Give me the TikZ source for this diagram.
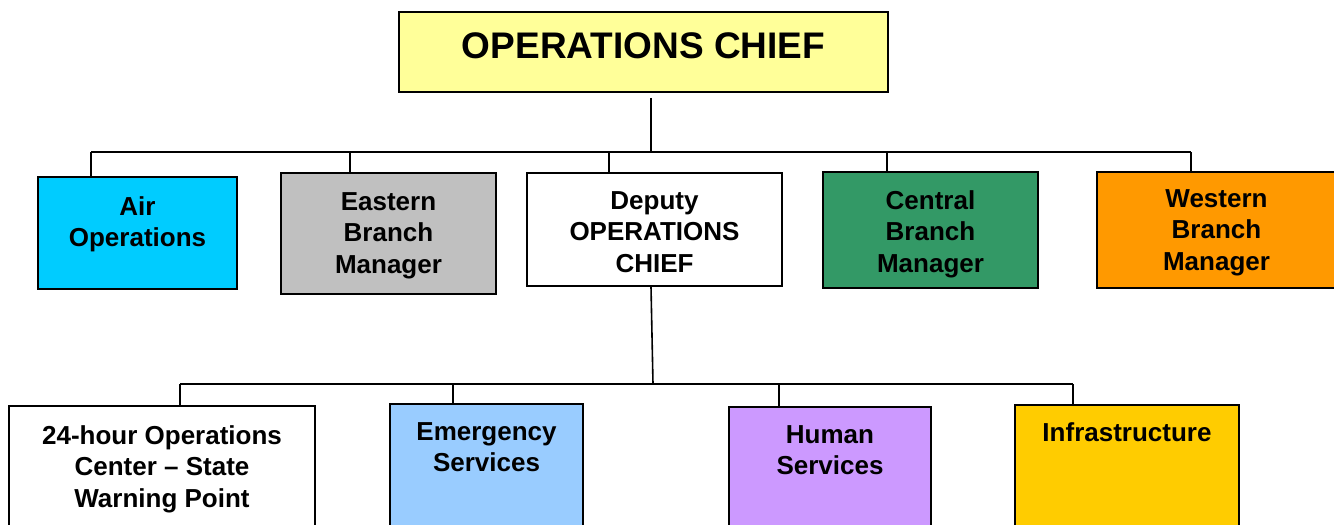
\documentclass[tikz,border=0pt]{standalone}
\usepackage{fontspec}
\setmainfont{Liberation Sans}
\definecolor{chiefyel}{HTML}{FFFF99}
\definecolor{aircyan}{HTML}{00CCFF}
\definecolor{eastgray}{HTML}{C0C0C0}
\definecolor{centgreen}{HTML}{339966}
\definecolor{westorange}{HTML}{FF9900}
\definecolor{emergblue}{HTML}{99CCFF}
\definecolor{humanlilac}{HTML}{CC99FF}
\definecolor{infragold}{HTML}{FFCC00}

\begin{document}
\begin{tikzpicture}[x=1pt, y=-1pt,
    box/.style={draw, line width=1.5pt, rectangle, inner sep=0pt},
    lbl/.style={anchor=north, inner sep=0pt, align=center,
      font=\bfseries\fontsize{26}{31.5}\selectfont},
    link/.style={line width=1.6pt}]
  \useasboundingbox (0,0) rectangle (1334,525);

  % boxes
  \node[box, fill=chiefyel,   minimum width=489, minimum height=80]  (chief)   at (643.5,52)  {};
  \node[box, fill=aircyan,    minimum width=199, minimum height=112] (air)     at (137.5,233) {};
  \node[box, fill=eastgray,   minimum width=215, minimum height=121] (eastern) at (388.5,233.5) {};
  \node[box, fill=white,      minimum width=255, minimum height=113] (deputy)  at (654.5,229.5) {};
  \node[box, fill=centgreen,  minimum width=215, minimum height=116] (central) at (930.5,230) {};
  \node[box, fill=westorange, minimum width=239, minimum height=116] (western) at (1216.5,230) {};
  \node[box, fill=white,      minimum width=306, minimum height=134] (watch)   at (162,473)   {};
  \node[box, fill=emergblue,  minimum width=193, minimum height=136] (emerg)   at (486.5,472) {};
  \node[box, fill=humanlilac, minimum width=202, minimum height=133] (human)   at (830,473.5) {};
  \node[box, fill=infragold,  minimum width=224, minimum height=135] (infra)   at (1127,472.5) {};

  % texts
  \node[lbl, font=\bfseries\fontsize{37}{40}\selectfont] (chieftxt) at ([yshift=-21pt]chief.north) {OPERATIONS CHIEF};
  \node[lbl] (airtxt)     at ([yshift=-20pt]air.north)     {Air\\Operations};
  \node[lbl] (easterntxt) at ([yshift=-20pt]eastern.north) {Eastern\\Branch\\Manager};
  \node[lbl] (deputytxt)  at ([yshift=-19pt]deputy.north)  {Deputy\\OPERATIONS\\CHIEF};
  \node[lbl] (centraltxt) at ([yshift=-19pt]central.north) {Central\\Branch\\Manager};
  \node[lbl] (westerntxt) at ([yshift=-18pt]western.north) {Western\\Branch\\Manager};
  \node[lbl] (watchtxt)   at ([yshift=-20pt]watch.north)   {24-hour Operations\\Center \textendash{} State\\Warning Point};
  \node[lbl] (emergtxt)   at ([yshift=-19pt]emerg.north)   {Emergency\\Services};
  \node[lbl] (humantxt)   at ([yshift=-19pt]human.north)   {Human\\Services};
  \node[lbl] (infratxt)   at ([yshift=-18pt]infra.north)   {Infrastructure};

  % upper tree
  \coordinate (upJ) at (651,152);
  \draw[link, shorten <=5pt] (upJ |- chief.south) -- (upJ);
  \foreach \n/\x in {air/91, eastern/350, deputy/609, central/887, western/1191} {
    \coordinate (j\n) at (\x,152);
    \draw[link] (j\n) -- (j\n |- \n.north);
  }
  \draw[link] (jair) -- (jwestern);

  % lower tree
  \coordinate (loJ) at (653,384);
  \draw[link] ([xshift=-3.5pt]deputy.south) -- (loJ);
  \foreach \n/\x in {watch/180, emerg/453, human/779, infra/1073} {
    \coordinate (j\n) at (\x,384);
    \draw[link] (j\n) -- (j\n |- \n.north);
  }
  \draw[link] (jwatch) -- (jinfra);
\end{tikzpicture}
\end{document}
